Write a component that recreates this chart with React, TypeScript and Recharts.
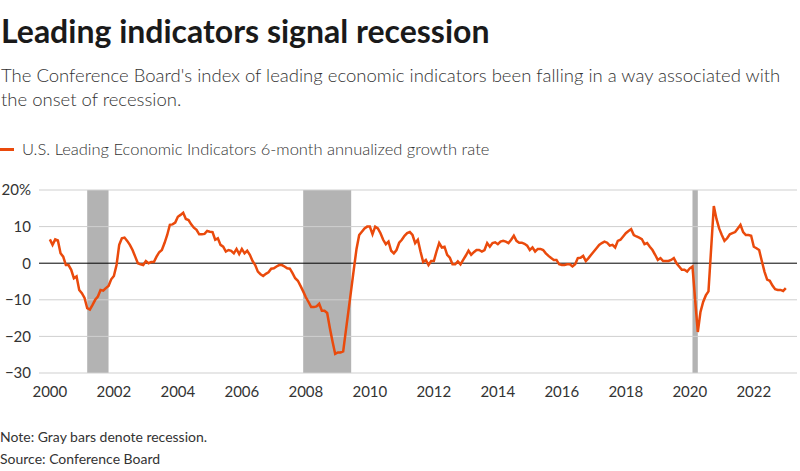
import { LineChart, Line, XAxis, YAxis, ReferenceArea, ReferenceLine } from "recharts";

// U.S. LEI, 6-month annualized growth rate (%), monthly from Jan 2000
const startYear = 2000;

const growth2000s = [
  6.5, 5.0, 6.5, 6.2, 2.7, 1.8, -0.5, -0.5, -1.8, -4.1, -3.6, -7.3, // 2000
  -8.2, -9.5, -12.3, -12.7, -11.4, -10.0, -9.1, -7.3, -7.5, -6.8, -6.2, -4.4, // 2001
  -3.5, -0.5, 5.0, 6.8, 7.0, 6.1, 5.0, 3.6, 1.8, 0.0, -0.3, -0.5, // 2002
  0.6, 0.0, 0.3, 0.3, 1.8, 3.0, 3.6, 5.5, 7.7, 10.5, 10.6, 11.1, // 2003
  12.7, 13.2, 13.8, 12.1, 11.8, 10.6, 9.7, 9.1, 7.9, 7.9, 8.0, 8.8, // 2004
  8.6, 8.5, 6.4, 6.8, 5.0, 4.5, 3.2, 3.6, 3.4, 2.7, 3.9, 2.5, // 2005
  3.9, 2.7, 3.4, 2.3, 0.6, -0.5, -2.3, -3.0, -3.5, -2.9, -2.5, -1.5, // 2006
  -1.4, -0.9, -0.5, -0.5, -0.9, -1.4, -1.5, -2.7, -4.1, -4.8, -6.2, -7.7, // 2007
  -9.3, -10.6, -12.0, -12.0, -11.8, -11.1, -13.0, -13.0, -13.6, -17.7, -21.4, -24.8, // 2008
  -24.4, -24.4, -24.1, -18.5, -12.9, -7.3, -1.6, 3.9, 7.7, 8.6, 9.5, 10.0, // 2009
];

const growth2010s = [
  10.0, 7.9, 10.0, 9.5, 8.2, 6.4, 5.2, 5.9, 3.4, 2.7, 3.6, 5.6, // 2010
  6.4, 7.5, 8.2, 8.5, 7.7, 5.5, 6.4, 3.2, 0.3, 0.9, -0.5, 0.6, // 2011
  0.6, 3.2, 5.5, 4.3, 4.5, 2.3, 1.5, -0.3, -0.3, 0.5, -0.3, 0.9, // 2012
  2.1, 3.4, 2.3, 3.0, 3.6, 3.6, 3.2, 3.6, 5.5, 4.5, 5.5, 5.7, // 2013
  5.2, 5.9, 6.1, 5.9, 5.5, 6.4, 7.5, 6.1, 5.6, 5.6, 5.3, 4.8, // 2014
  3.6, 4.3, 3.2, 3.9, 3.9, 3.6, 2.7, 2.0, 1.4, 0.9, 0.9, -0.3, // 2015
  -0.5, -0.5, -0.3, -0.3, -0.9, -0.3, 1.4, 1.5, 2.0, 0.6, 1.4, 2.3, // 2016
  3.2, 4.1, 5.0, 5.5, 5.9, 5.6, 4.8, 5.0, 4.3, 6.1, 6.4, 7.3, // 2017
  8.2, 8.8, 9.3, 7.7, 7.3, 7.0, 6.6, 5.2, 5.5, 4.5, 3.6, 2.3, // 2018
  0.9, 1.4, 0.6, 0.6, 0.6, 0.9, 1.4, 0.0, -0.9, -1.8, -1.8, -2.3, // 2019
];

const growth2020s = [
  -1.4, -0.9, -10.0, -18.8, -13.3, -10.6, -8.8, -7.7, 4.0, 15.6, 12.1, 9.5, // 2020
  7.7, 6.1, 6.8, 7.9, 8.2, 8.5, 9.5, 10.5, 8.5, 7.7, 7.7, 7.5, // 2021
  4.5, 4.1, 3.6, 0.6, -2.3, -4.5, -4.8, -6.1, -7.1, -7.3, -7.3, -7.6, // 2022
  -6.8, // 2023
];

const recessionStarts = ["2001-03", "2007-12", "2020-02"];
const recessionEnds = ["2001-11", "2009-06", "2020-04"];

const yTicks = [-30, -20, -10, 0, 10, 20];
const xTicks = [2000, 2002, 2004, 2006, 2008, 2010, 2012, 2014, 2016, 2018, 2020, 2022];

const toYear = (ym: string) => {
  const [y, m] = ym.split("-").map(Number);
  return y + (m - 1) / 12;
};

const data = [...growth2000s, ...growth2010s, ...growth2020s].map((v, i) => ({
  t: startYear + i / 12,
  v,
}));

const FONT = "Lato, 'Noto Sans', sans-serif";
const ORANGE = "#ea4a0c";

const fmtY = (v: number) => (v === 20 ? "20%" : v < 0 ? `\u2212${Math.abs(v)}` : String(v));

export default function App() {
  return (
    <div style={{ position: "absolute", left: 0, top: 0, width: 800, height: 471, background: "#fff", fontFamily: FONT, color: "#222" }}>
      <div style={{ position: "absolute", left: 1, top: 11, fontSize: 32, fontWeight: 700, color: "#1a1a1a", letterSpacing: 0, whiteSpace: "nowrap" }}>
        Leading indicators signal recession
      </div>
      <div style={{ position: "absolute", left: 1, top: 63, width: 790, fontSize: 18.5, fontWeight: 300, lineHeight: "24px", color: "#333" }}>
        The Conference Board's index of leading economic indicators been falling in a way associated with the onset of recession.
      </div>
      <div style={{ position: "absolute", left: 0, top: 139, display: "flex", alignItems: "center", fontSize: 16.5, fontWeight: 300, color: "#333" }}>
        <span style={{ display: "inline-block", width: 14, height: 3, background: ORANGE, marginRight: 8 }} />
        U.S. Leading Economic Indicators 6-month annualized growth rate
      </div>

      <div style={{ position: "absolute", left: 0, top: 180 }}>
        <LineChart width={800} height={230} data={data} margin={{ top: 10, right: 3, left: 0, bottom: 7 }}>
          <XAxis
            dataKey="t"
            type="number"
            domain={[1999.66, 2023.35]}
            ticks={xTicks}
            allowDataOverflow
            axisLine={false}
            tickLine={false}
            tickMargin={7}
            height={30}
            tick={{ fontSize: 15, fill: "#333", fontFamily: FONT }}
          />
          <YAxis
            type="number"
            domain={[-30, 20]}
            ticks={yTicks}
            axisLine={false}
            tickLine={false}
            width={39}
            tickFormatter={fmtY}
            tick={{ fontSize: 15, fill: "#333", fontFamily: FONT }}
          />
          {recessionStarts.map((s, i) => (
            <ReferenceArea
              key={s}
              x1={toYear(s)}
              x2={toYear(recessionEnds[i])}
              y1={-30}
              y2={20}
              fill="#b3b3b3"
              fillOpacity={1}
              stroke="none"
            />
          ))}
          {yTicks.filter((v) => v !== 0).map((v) => (
            <ReferenceLine key={v} y={v} stroke="#cfcfcf" strokeWidth={1} />
          ))}
          <ReferenceLine y={0} stroke="#000" strokeWidth={1} />
          <Line dataKey="v" type="linear" stroke={ORANGE} strokeWidth={2.5} dot={false} isAnimationActive={false} />
        </LineChart>
      </div>

      <div style={{ position: "absolute", left: 0, top: 428, fontSize: 14, color: "#333" }}>Note: Gray bars denote recession.</div>
      <div style={{ position: "absolute", left: 0, top: 450, fontSize: 14, color: "#333" }}>Source: Conference Board</div>
    </div>
  );
}
